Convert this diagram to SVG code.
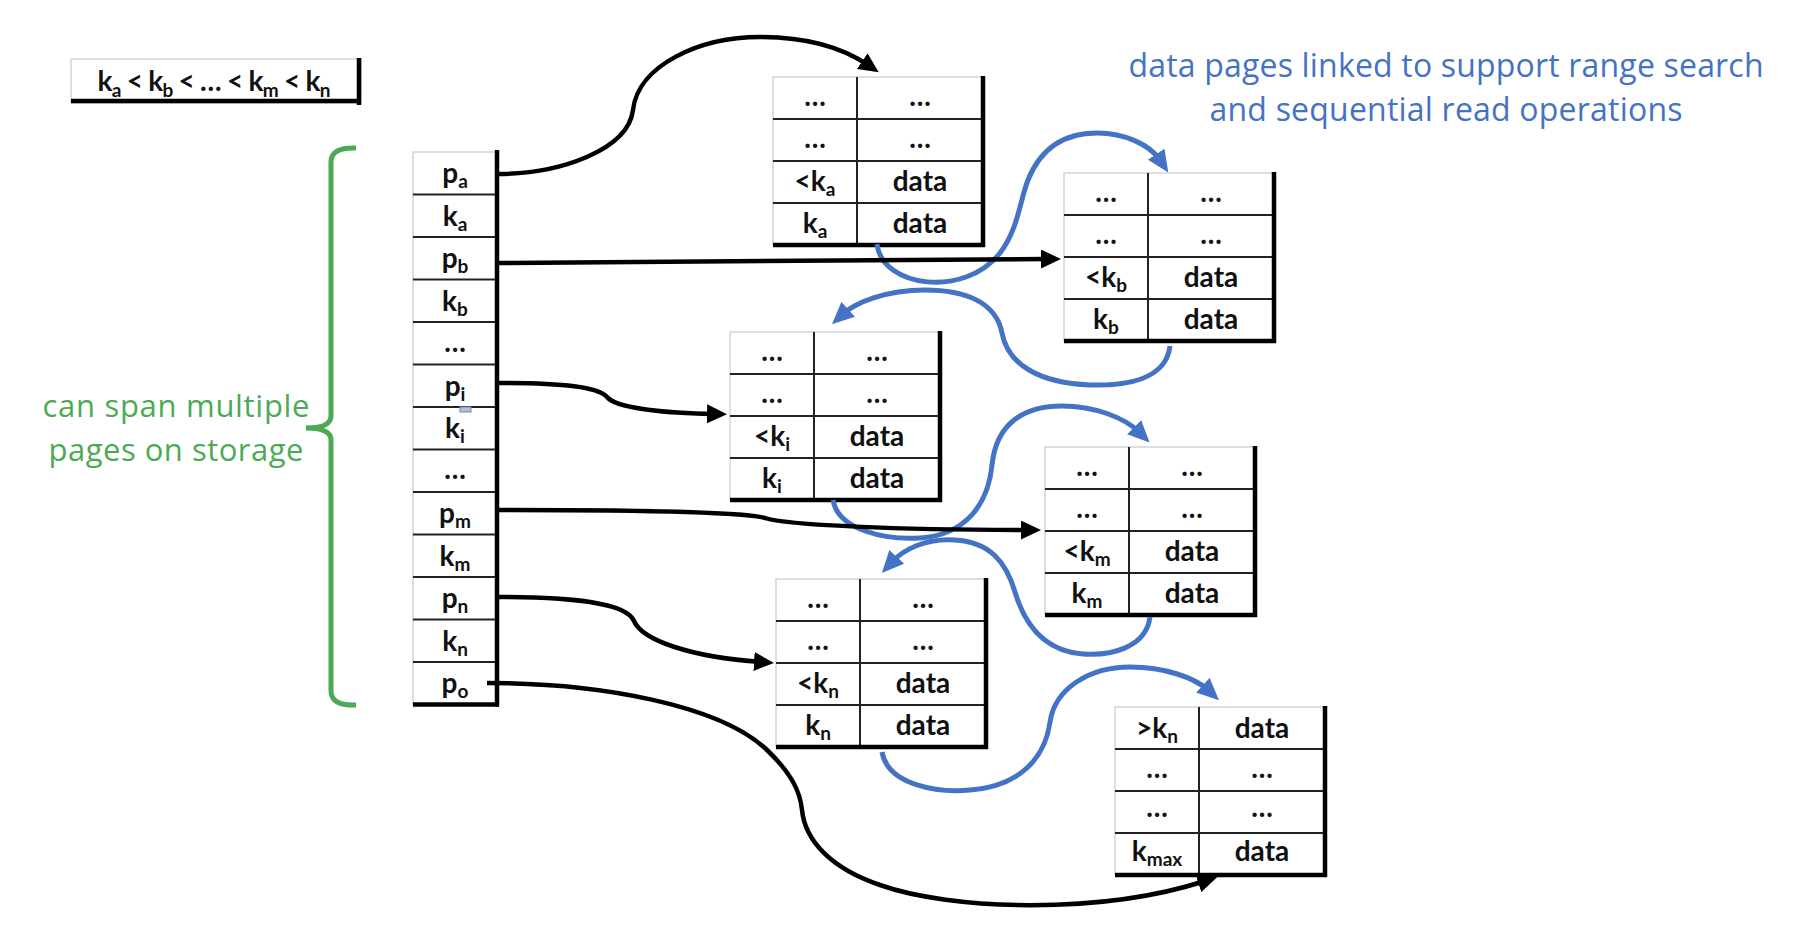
<svg xmlns="http://www.w3.org/2000/svg" width="1810" height="950" viewBox="0 0 1810 950">
<style>
.lbl{font-family:Lato,"Liberation Sans",sans-serif;font-weight:700;font-size:28px;fill:#111;text-anchor:middle}
.sub{font-size:19px}
.cell{fill:#fff;stroke:#d4d4d4;stroke-width:1.5}
.sep{stroke:#222;stroke-width:2}
.thick{stroke:#000;stroke-width:4.5}
.conn{fill:none;stroke:#000;stroke-width:4.5}
.blue{fill:none;stroke:#4472C4;stroke-width:5}
.green{font-family:"Open Sans","Noto Sans",sans-serif;font-size:31px;fill:#4CAA55;text-anchor:middle}
.bluet{font-family:"Open Sans","Noto Sans",sans-serif;font-size:32px;fill:#4472C4;text-anchor:middle}
</style>
<defs>
<marker id="ah" markerUnits="userSpaceOnUse" markerWidth="20" markerHeight="19" viewBox="0 0 20 19" refX="7" refY="9.5" orient="auto"><path d="M0,0 L20,9.5 L0,19 z" fill="#000"/></marker>
<marker id="bh" markerUnits="userSpaceOnUse" markerWidth="22" markerHeight="20" viewBox="0 0 22 20" refX="7" refY="10" orient="auto"><path d="M0,0 L22,10 L0,20 z" fill="#4472C4"/></marker>
</defs>
<rect width="1810" height="950" fill="#fff"/>

<g id="order-box">
<rect class="cell" x="71" y="59" width="290" height="44"/>
<line class="thick" x1="359" y1="58" x2="359" y2="105"/>
<line class="thick" x1="71" y1="101" x2="361" y2="101"/>
<text class="lbl" x="214" y="91" textLength="233">k<tspan class="sub" dy="6">a</tspan><tspan dy="-6"> &lt; k</tspan><tspan class="sub" dy="6">b</tspan><tspan dy="-6"> &lt; … &lt; k</tspan><tspan class="sub" dy="6">m</tspan><tspan dy="-6"> &lt; k</tspan><tspan class="sub" dy="6">n</tspan></text>
</g>

<g id="bracket">
<path d="M356 148 Q331 147 331 162 L331 416 Q331 428 306 428 Q331 428 331 440 L331 691 Q331 706 356 705" fill="none" stroke="#4CAA55" stroke-width="5"/>
<text class="green" x="176" y="417" textLength="267">can span multiple</text>
<text class="green" x="176" y="461" textLength="255">pages on storage</text>
</g>

<g id="note">
<text class="bluet" x="1446" y="77" textLength="635">data pages linked to support range search</text>
<text class="bluet" x="1446" y="121" textLength="473">and sequential read operations</text>
</g>

<g id="index-column">
<rect class="cell" x="413" y="152" width="84" height="552.5"/>
<g class="sep">
<line x1="413" y1="194.5" x2="497" y2="194.5"/>
<line x1="413" y1="237" x2="497" y2="237"/>
<line x1="413" y1="279.5" x2="497" y2="279.5"/>
<line x1="413" y1="322" x2="497" y2="322"/>
<line x1="413" y1="364.5" x2="497" y2="364.5"/>
<line x1="413" y1="407" x2="497" y2="407"/>
<line x1="413" y1="449.5" x2="497" y2="449.5"/>
<line x1="413" y1="492" x2="497" y2="492"/>
<line x1="413" y1="534.5" x2="497" y2="534.5"/>
<line x1="413" y1="577" x2="497" y2="577"/>
<line x1="413" y1="619.5" x2="497" y2="619.5"/>
<line x1="413" y1="662" x2="497" y2="662"/>
</g>
<line class="thick" x1="497" y1="150" x2="497" y2="706.5"/>
<line class="thick" x1="413" y1="704.5" x2="499" y2="704.5"/>
<rect x="460" y="407" width="11" height="5" fill="#b4c3d4" stroke="#6f8aa8" stroke-width="1"/>
<text class="lbl" x="455" y="183">p<tspan class="sub" dy="5">a</tspan></text>
<text class="lbl" x="455" y="225.5">k<tspan class="sub" dy="5">a</tspan></text>
<text class="lbl" x="455" y="268">p<tspan class="sub" dy="5">b</tspan></text>
<text class="lbl" x="455" y="310.5">k<tspan class="sub" dy="5">b</tspan></text>
<text class="lbl" x="455" y="352">…</text>
<text class="lbl" x="455" y="395.5">p<tspan class="sub" dy="5">i</tspan></text>
<text class="lbl" x="455" y="438">k<tspan class="sub" dy="5">i</tspan></text>
<text class="lbl" x="455" y="479">…</text>
<text class="lbl" x="455" y="523">p<tspan class="sub" dy="5">m</tspan></text>
<text class="lbl" x="455" y="565.5">k<tspan class="sub" dy="5">m</tspan></text>
<text class="lbl" x="455" y="608">p<tspan class="sub" dy="5">n</tspan></text>
<text class="lbl" x="455" y="650.5">k<tspan class="sub" dy="5">n</tspan></text>
<text class="lbl" x="455" y="693">p<tspan class="sub" dy="5">o</tspan></text>
</g>

<g id="page-a" transform="translate(773,77)">
<rect class="cell" x="0" y="0" width="210" height="168"/>
<g class="sep"><line x1="0" y1="42" x2="210" y2="42"/><line x1="0" y1="84" x2="210" y2="84"/><line x1="0" y1="126" x2="210" y2="126"/><line x1="84" y1="0" x2="84" y2="168"/></g>
<line class="thick" x1="210" y1="-1" x2="210" y2="170"/><line class="thick" x1="0" y1="168" x2="212" y2="168"/>
<text class="lbl" x="42" y="29">…</text><text class="lbl" x="147" y="29">…</text>
<text class="lbl" x="42" y="71">…</text><text class="lbl" x="147" y="71">…</text>
<text class="lbl" x="42" y="114">&lt;k<tspan class="sub" dy="5">a</tspan></text><text class="lbl" x="147" y="114">data</text>
<text class="lbl" x="42" y="156">k<tspan class="sub" dy="5">a</tspan></text><text class="lbl" x="147" y="156">data</text>
</g>

<g id="page-b" transform="translate(1064,173)">
<rect class="cell" x="0" y="0" width="210" height="168"/>
<g class="sep"><line x1="0" y1="42" x2="210" y2="42"/><line x1="0" y1="84" x2="210" y2="84"/><line x1="0" y1="126" x2="210" y2="126"/><line x1="84" y1="0" x2="84" y2="168"/></g>
<line class="thick" x1="210" y1="-1" x2="210" y2="170"/><line class="thick" x1="0" y1="168" x2="212" y2="168"/>
<text class="lbl" x="42" y="29">…</text><text class="lbl" x="147" y="29">…</text>
<text class="lbl" x="42" y="71">…</text><text class="lbl" x="147" y="71">…</text>
<text class="lbl" x="42" y="114">&lt;k<tspan class="sub" dy="5">b</tspan></text><text class="lbl" x="147" y="114">data</text>
<text class="lbl" x="42" y="156">k<tspan class="sub" dy="5">b</tspan></text><text class="lbl" x="147" y="156">data</text>
</g>

<g id="page-i" transform="translate(730,332)">
<rect class="cell" x="0" y="0" width="210" height="168"/>
<g class="sep"><line x1="0" y1="42" x2="210" y2="42"/><line x1="0" y1="84" x2="210" y2="84"/><line x1="0" y1="126" x2="210" y2="126"/><line x1="84" y1="0" x2="84" y2="168"/></g>
<line class="thick" x1="210" y1="-1" x2="210" y2="170"/><line class="thick" x1="0" y1="168" x2="212" y2="168"/>
<text class="lbl" x="42" y="29">…</text><text class="lbl" x="147" y="29">…</text>
<text class="lbl" x="42" y="71">…</text><text class="lbl" x="147" y="71">…</text>
<text class="lbl" x="42" y="114">&lt;k<tspan class="sub" dy="5">i</tspan></text><text class="lbl" x="147" y="114">data</text>
<text class="lbl" x="42" y="156">k<tspan class="sub" dy="5">i</tspan></text><text class="lbl" x="147" y="156">data</text>
</g>

<g id="page-m" transform="translate(1045,447)">
<rect class="cell" x="0" y="0" width="210" height="168"/>
<g class="sep"><line x1="0" y1="42" x2="210" y2="42"/><line x1="0" y1="84" x2="210" y2="84"/><line x1="0" y1="126" x2="210" y2="126"/><line x1="84" y1="0" x2="84" y2="168"/></g>
<line class="thick" x1="210" y1="-1" x2="210" y2="170"/><line class="thick" x1="0" y1="168" x2="212" y2="168"/>
<text class="lbl" x="42" y="29">…</text><text class="lbl" x="147" y="29">…</text>
<text class="lbl" x="42" y="71">…</text><text class="lbl" x="147" y="71">…</text>
<text class="lbl" x="42" y="114">&lt;k<tspan class="sub" dy="5">m</tspan></text><text class="lbl" x="147" y="114">data</text>
<text class="lbl" x="42" y="156">k<tspan class="sub" dy="5">m</tspan></text><text class="lbl" x="147" y="156">data</text>
</g>

<g id="page-n" transform="translate(776,579)">
<rect class="cell" x="0" y="0" width="210" height="168"/>
<g class="sep"><line x1="0" y1="42" x2="210" y2="42"/><line x1="0" y1="84" x2="210" y2="84"/><line x1="0" y1="126" x2="210" y2="126"/><line x1="84" y1="0" x2="84" y2="168"/></g>
<line class="thick" x1="210" y1="-1" x2="210" y2="170"/><line class="thick" x1="0" y1="168" x2="212" y2="168"/>
<text class="lbl" x="42" y="29">…</text><text class="lbl" x="147" y="29">…</text>
<text class="lbl" x="42" y="71">…</text><text class="lbl" x="147" y="71">…</text>
<text class="lbl" x="42" y="114">&lt;k<tspan class="sub" dy="5">n</tspan></text><text class="lbl" x="147" y="114">data</text>
<text class="lbl" x="42" y="156">k<tspan class="sub" dy="5">n</tspan></text><text class="lbl" x="147" y="156">data</text>
</g>

<g id="page-max" transform="translate(1115,707)">
<rect class="cell" x="0" y="0" width="210" height="168"/>
<g class="sep"><line x1="0" y1="42" x2="210" y2="42"/><line x1="0" y1="84" x2="210" y2="84"/><line x1="0" y1="126" x2="210" y2="126"/><line x1="84" y1="0" x2="84" y2="168"/></g>
<line class="thick" x1="210" y1="-1" x2="210" y2="170"/><line class="thick" x1="0" y1="168" x2="212" y2="168"/>
<text class="lbl" x="42" y="31">&gt;k<tspan class="sub" dy="5">n</tspan></text><text class="lbl" x="147" y="31">data</text>
<text class="lbl" x="42" y="71">…</text><text class="lbl" x="147" y="71">…</text>
<text class="lbl" x="42" y="110">…</text><text class="lbl" x="147" y="110">…</text>
<text class="lbl" x="42" y="154">k<tspan class="sub" dy="5">max</tspan></text><text class="lbl" x="147" y="154">data</text>
</g>

<g id="connectors">
<path class="blue" marker-end="url(#bh)" d="M877 244 C882 288 965 298 1000 253 C1018 230 1020 200 1028 180 C1040 150 1062 133 1097 133 C1125 133 1150 145 1160 160"/>
<path class="blue" marker-end="url(#bh)" d="M1170 346 C1166 380 1125 386 1090 385 C1040 383 1008 365 1002 333 C996 302 965 290 925 290 C885 290 855 303 843 314"/>
<path class="blue" marker-end="url(#bh)" d="M833 500 C838 530 885 540 920 538 C965 535 988 505 992 465 C996 425 1022 406 1062 406 C1095 406 1125 418 1139 432"/>
<path class="blue" marker-end="url(#bh)" d="M1150 617 C1146 648 1110 656 1083 654 C1042 651 1024 622 1015 592 C1006 562 990 542 955 540 C925 538 903 550 892 562"/>
<path class="blue" marker-end="url(#bh)" d="M882 752 C888 786 940 793 970 790 C1020 786 1045 758 1050 722 C1055 688 1090 667 1130 667 C1165 667 1195 678 1208 690"/>
<path class="conn" marker-end="url(#ah)" d="M497 174 C560 174 628 150 633 110 C638 65 700 37 760 37 C805 37 840 46 868 65"/>
<path class="conn" marker-end="url(#ah)" d="M497 263 C700 262 900 259 1048 259"/>
<path class="conn" marker-end="url(#ah)" d="M497 383 C565 383 598 387 607 397 C617 409 670 413 714 414"/>
<path class="conn" marker-end="url(#ah)" d="M497 510 C620 510 745 512 765 518 C785 525 900 530 1028 530"/>
<path class="conn" marker-end="url(#ah)" d="M497 597 C575 597 626 603 634 621 C642 640 690 657 761 662"/>
<path class="conn" marker-end="url(#ah)" d="M487 683 C600 683 720 705 767 750 C790 772 800 790 802 810 C805 840 830 868 880 885 C950 910 1100 915 1205 881"/>
</g>
</svg>
